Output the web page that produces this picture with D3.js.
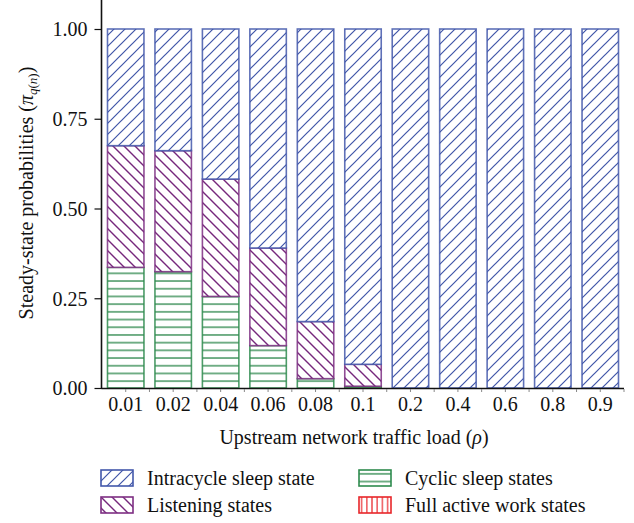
<!DOCTYPE html>
<html>
<head>
<meta charset="utf-8">
<script src="https://cdn.jsdelivr.net/npm/d3@7"></script>
<style>
  body { margin: 0; background: #fff; }
  text { font-family: "Liberation Serif", "DejaVu Serif", serif; fill: #111; }
</style>
</head>
<body>
<script>
"use strict";

///////////////////
// data
///////////////////
var loads = ["0.01", "0.02", "0.04", "0.06", "0.08", "0.1", "0.2", "0.4", "0.6", "0.8", "0.9"];
var activeStates    = [0, 0, 0, 0, 0, 0.001, 0, 0, 0, 0, 0];
var cyclicSleep     = [0.336, 0.324, 0.255, 0.118, 0.026, 0.004, 0, 0, 0, 0, 0];
var listeningStates = [0.339, 0.337, 0.327, 0.272, 0.159, 0.061, 0, 0, 0, 0, 0];
var intracycleSleep = [0.325, 0.339, 0.418, 0.61, 0.815, 0.934, 1, 1, 1, 1, 1];
var yTicks = [0, 0.25, 0.5, 0.75, 1];

var seriesInfo = [
    { key: "active",     name: "Full active work states", color: "#e8262a", pattern: "hatch-red" },
    { key: "cyclic",     name: "Cyclic sleep states",     color: "#2e8b4e", pattern: "hatch-green" },
    { key: "listening",  name: "Listening states",        color: "#7d2e82", pattern: "hatch-purple" },
    { key: "intracycle", name: "Intracycle sleep state",  color: "#4358ab", pattern: "hatch-blue" }
];

var rows = loads.map(function(d, i) {
    return {
        load: d,
        active: activeStates[i],
        cyclic: cyclicSleep[i],
        listening: listeningStates[i],
        intracycle: intracycleSleep[i]
    };
});

///////////////////
// layout
///////////////////
var W = 634, H = 523;
var mLeft = 102, mRight = 624, mTop = 29, mBottom = 388;
var fs = "20px";

var svg = d3.select("body").append("svg")
    .attr("width", W).attr("height", H);

// hatch patterns
var defs = svg.append("defs");
function addPattern(id, size, color, path, sw) {
    var p = defs.append("pattern")
        .attr("id", id)
        .attr("patternUnits", "userSpaceOnUse")
        .attr("width", size).attr("height", size);
    p.append("rect").attr("width", size).attr("height", size).attr("fill", "#fff");
    p.append("path").attr("d", path).attr("stroke", color)
        .attr("stroke-width", sw).attr("fill", "none");
}
var s = 11;
addPattern("hatch-blue", s, "#3f55a8",
    "M0," + s + " L" + s + ",0 M-2,2 L2,-2 M" + (s - 2) + "," + (s + 2) + " L" + (s + 2) + "," + (s - 2), 1.2);
addPattern("hatch-purple", s, "#76287c",
    "M0,0 L" + s + "," + s + " M-2," + (s - 2) + " L2," + (s + 2) + " M" + (s - 2) + ",-2 L" + (s + 2) + ",2", 1.4);
addPattern("hatch-green", 7.7, "#2a8549", "M0,3.85 L7.7,3.85", 1.3);
addPattern("hatch-red", 5.2, "#e8262a", "M2.6,0 L2.6,5.2", 1.2);

var x = d3.scaleBand()
    .domain(loads)
    .range([mLeft, mRight])
    .paddingInner(0.2)
    .paddingOuter(0.1);

var y = d3.scaleLinear()
    .domain([0, 1])
    .range([mBottom, mTop]);

var stack = d3.stack().keys(seriesInfo.map(function(d) { return d.key; }));
var stacked = stack(rows);

///////////////////
// bars
///////////////////
var layers = svg.selectAll("g.layer")
    .data(stacked)
    .enter().append("g")
    .attr("class", "layer");

layers.each(function(layer, li) {
    var info = seriesInfo[li];
    d3.select(this).selectAll("rect")
        .data(layer.filter(function(d) { return d[1] - d[0] > 0; }))
        .enter().append("rect")
        .attr("x", function(d) { return x(d.data.load) + 0.75; })
        .attr("y", function(d) { return y(d[1]); })
        .attr("width", x.bandwidth() - 1.5)
        .attr("height", function(d) { return Math.max(0.5, y(d[0]) - y(d[1])); })
        .attr("fill", "url(#" + info.pattern + ")")
        .attr("stroke", info.color)
        .attr("stroke-opacity", 0.85)
        .attr("stroke-width", 1.6);
});

///////////////////
// axes
///////////////////
var yAxis = d3.axisLeft(y)
    .tickValues(yTicks)
    .tickFormat(d3.format(".2f"))
    .tickSize(7)
    .tickSizeOuter(0);

var gy = svg.append("g")
    .attr("transform", "translate(" + (mLeft - 0.5) + ",0)")
    .call(yAxis);
gy.select(".domain").remove();
gy.selectAll(".tick line").attr("stroke", "#111").attr("stroke-width", 1.2);
gy.selectAll(".tick text")
    .attr("x", -14)
    .attr("dy", "0.34em")
    .style("font-size", fs)
    .style("font-family", "Liberation Serif, serif");

// vertical axis line reaches the top edge
svg.append("line")
    .attr("x1", mLeft - 0.5).attr("x2", mLeft - 0.5)
    .attr("y1", 0).attr("y2", mBottom + 1)
    .attr("stroke", "#111").attr("stroke-width", 1.6);

// horizontal axis line
svg.append("line")
    .attr("x1", mLeft - 0.5).attr("x2", mRight)
    .attr("y1", mBottom + 0.5).attr("y2", mBottom + 0.5)
    .attr("stroke", "#111").attr("stroke-width", 1.6);

// small ticks at bar centres and between bars
var step = x.step();
var tickXs = [];
loads.forEach(function(d) {
    tickXs.push(x(d) + x.bandwidth() / 2);
    tickXs.push(x(d) + x.bandwidth() / 2 + step / 2);
});
svg.selectAll("line.xtick")
    .data(tickXs)
    .enter().append("line")
    .attr("class", "xtick")
    .attr("x1", function(d) { return d; }).attr("x2", function(d) { return d; })
    .attr("y1", mBottom + 1).attr("y2", mBottom + 4)
    .attr("stroke", "#888").attr("stroke-width", 1);

var xAxis = d3.axisBottom(x).tickSize(0).tickPadding(0);
var gx = svg.append("g")
    .attr("transform", "translate(0," + mBottom + ")")
    .call(xAxis);
gx.select(".domain").remove();
gx.selectAll(".tick text")
    .attr("y", 23)
    .attr("dy", 0)
    .style("font-size", fs)
    .style("font-family", "Liberation Serif, serif");

// axis titles
svg.append("text")
    .attr("x", 354).attr("y", 444)
    .attr("text-anchor", "middle")
    .style("font-size", fs)
    .html("Upstream network traffic load (<tspan font-style='italic'>ρ</tspan>)");

var yl = svg.append("text")
    .attr("transform", "translate(33,193) rotate(-90)")
    .attr("text-anchor", "middle")
    .style("font-size", fs);
yl.append("tspan").text("Steady-state probabilities (");
yl.append("tspan").attr("font-style", "italic").text("π");
yl.append("tspan").attr("font-style", "italic").attr("font-size", "13px").attr("dy", "4").text("q");
yl.append("tspan").attr("font-size", "13px").text("(");
yl.append("tspan").attr("font-style", "italic").attr("font-size", "13px").text("n");
yl.append("tspan").attr("font-size", "13px").text(")");
yl.append("tspan").attr("dy", "-4").text(")");

///////////////////
// legend
///////////////////
var legendItems = [
    { s: seriesInfo[3], x: 101, y: 470 },
    { s: seriesInfo[2], x: 101, y: 497 },
    { s: seriesInfo[1], x: 359, y: 470 },
    { s: seriesInfo[0], x: 359, y: 497 }
];
var lg = svg.selectAll("g.legend")
    .data(legendItems)
    .enter().append("g")
    .attr("class", "legend")
    .attr("transform", function(d) { return "translate(" + d.x + "," + d.y + ")"; });
lg.append("rect")
    .attr("width", 32).attr("height", 16)
    .attr("fill", function(d) { return "url(#" + d.s.pattern + ")"; })
    .attr("stroke", function(d) { return d.s.color; })
    .attr("stroke-width", 1.6);
lg.append("text")
    .attr("x", 46).attr("y", 15)
    .style("font-size", fs)
    .text(function(d) { return d.s.name; });
</script>
</body>
</html>
